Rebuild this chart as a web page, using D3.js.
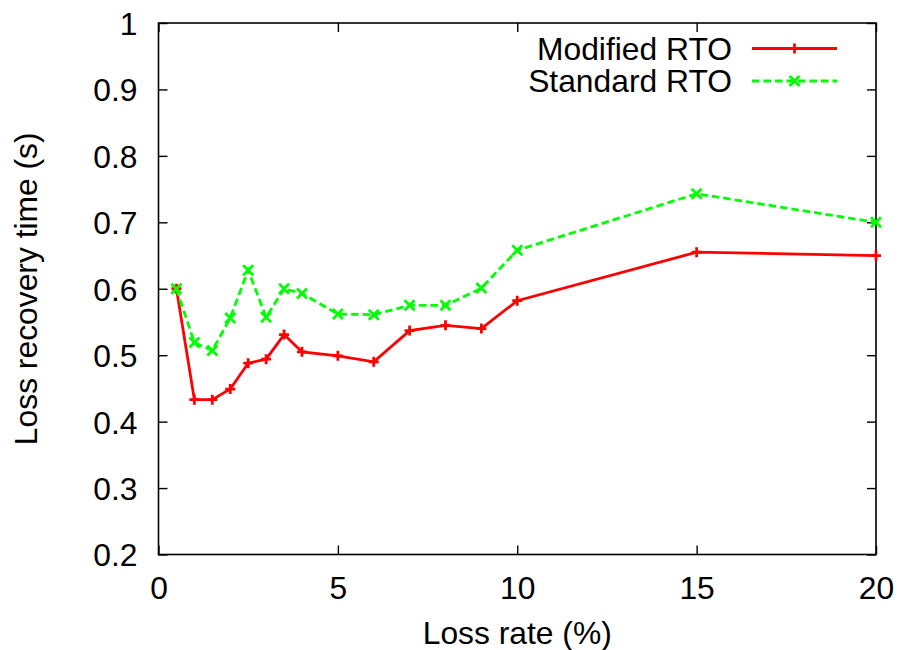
<!DOCTYPE html>
<html><head><meta charset="utf-8">
<script src="https://cdn.jsdelivr.net/npm/d3@7"></script>
<style>
body{margin:0;background:#fff;}
text{font-family:"Liberation Sans",Arial,Helvetica,sans-serif;fill:#000;}
</style></head>
<body>
<svg id="c" width="900" height="650"></svg>
<script>
const lossRate = [0.5, 1, 1.5, 2, 2.5, 3, 3.5, 4, 5, 6, 7, 8, 9, 10, 15, 20];
const modifiedRTO = [0.600, 0.433, 0.433, 0.449, 0.488, 0.494, 0.531, 0.505, 0.499, 0.490, 0.537, 0.545, 0.540, 0.582, 0.655, 0.650];
const standardRTO = [0.600, 0.519, 0.507, 0.556, 0.628, 0.557, 0.600, 0.593, 0.562, 0.561, 0.575, 0.575, 0.601, 0.658, 0.743, 0.700];
const seriesNames = ["Modified RTO", "Standard RTO"];
const xTicks = [0, 5, 10, 15, 20];
const yTicks = [0.2, 0.3, 0.4, 0.5, 0.6, 0.7, 0.8, 0.9, 1];
const xLabel = "Loss rate (%)";
const yLabel = "Loss recovery time (s)";

const svg = d3.select("#c");
const L = 158.5, R = 876, T = 23, B = 554.5;
const x = d3.scaleLinear().domain([0, 20]).range([L, R]);
const y = d3.scaleLinear().domain([0.2, 1]).range([B, T]);
const FS = 31.8;
const tickLen = 9;

// frame
svg.append("rect").attr("x", L).attr("y", T).attr("width", R - L).attr("height", B - T)
  .attr("fill", "none").attr("stroke", "#000").attr("stroke-width", 1.6);

const yAxisL = d3.axisLeft(y).tickValues(yTicks).tickSize(-tickLen).tickPadding(tickLen + 12)
  .tickFormat(d => d3.format("")(+d.toFixed(1)));
const gyl = svg.append("g").attr("transform", `translate(${L},0)`).call(yAxisL);
gyl.select(".domain").remove();
gyl.selectAll("line").attr("stroke", "#000").attr("stroke-width", 1.4);
gyl.selectAll("text").style("font-size", FS + "px").attr("dy", "0.36em");

const yAxisR = d3.axisRight(y).tickValues(yTicks).tickSize(-tickLen).tickFormat("");
const gyr = svg.append("g").attr("transform", `translate(${R},0)`).call(yAxisR);
gyr.select(".domain").remove();
gyr.selectAll("line").attr("stroke", "#000").attr("stroke-width", 1.4);

const xAxisB = d3.axisBottom(x).tickValues(xTicks).tickSize(-tickLen).tickPadding(tickLen + 13);
const gxb = svg.append("g").attr("transform", `translate(0,${B})`).call(xAxisB);
gxb.select(".domain").remove();
gxb.selectAll("line").attr("stroke", "#000").attr("stroke-width", 1.4);
gxb.selectAll("text").style("font-size", FS + "px").attr("dy", "0.71em");

const xAxisT = d3.axisTop(x).tickValues(xTicks).tickSize(-tickLen).tickFormat("");
const gxt = svg.append("g").attr("transform", `translate(0,${T})`).call(xAxisT);
gxt.select(".domain").remove();
gxt.selectAll("line").attr("stroke", "#000").attr("stroke-width", 1.4);

svg.append("text").attr("x", (L + R) / 2).attr("y", 644).attr("text-anchor", "middle")
  .style("font-size", FS + "px").text(xLabel);
svg.append("text").attr("transform", `translate(37,${(T + B) / 2}) rotate(-90)`)
  .attr("text-anchor", "middle").style("font-size", FS + "px").text(yLabel);

const series = [
  {name: seriesNames[0], vals: modifiedRTO, color: "#ff0000", dash: null, marker: "plus"},
  {name: seriesNames[1], vals: standardRTO, color: "#00ff00", dash: "7.5,4", marker: "cross"}
];

function drawMarker(g, cx, cy, type, color) {
  const s = 5;
  if (type === "plus") {
    g.append("path").attr("d", `M${cx - s},${cy}H${cx + s}M${cx},${cy - s}V${cy + s}`)
      .attr("stroke", color).attr("stroke-width", 2.8).attr("fill", "none");
  } else {
    g.append("path").attr("d", `M${cx - s},${cy - s}L${cx + s},${cy + s}M${cx - s},${cy + s}L${cx + s},${cy - s}`)
      .attr("stroke", color).attr("stroke-width", 2.8).attr("fill", "none");
  }
}

const line = d3.line().x(d => x(d[0])).y(d => y(d[1]));
series.forEach(s => {
  const pts = lossRate.map((v, i) => [v, s.vals[i]]);
  const g = svg.append("g");
  g.append("path").datum(pts).attr("d", line).attr("fill", "none")
    .attr("stroke", s.color).attr("stroke-width", 2.8)
    .attr("stroke-dasharray", s.dash);
  pts.forEach(p => drawMarker(g, x(p[0]), y(p[1]), s.marker, s.color));
});

const legY = [48.5, 81];
series.forEach((s, i) => {
  const g = svg.append("g");
  g.append("text").attr("x", 732).attr("y", legY[i] + 8).attr("text-anchor", "end")
    .attr("dy", "0.1em").style("font-size", FS + "px").text(s.name);
  g.append("line").attr("x1", 752).attr("x2", 837).attr("y1", legY[i]).attr("y2", legY[i])
    .attr("stroke", s.color).attr("stroke-width", 2.8).attr("stroke-dasharray", s.dash);
  drawMarker(g, 794.5, legY[i], s.marker, s.color);
});
</script>
</body></html>
